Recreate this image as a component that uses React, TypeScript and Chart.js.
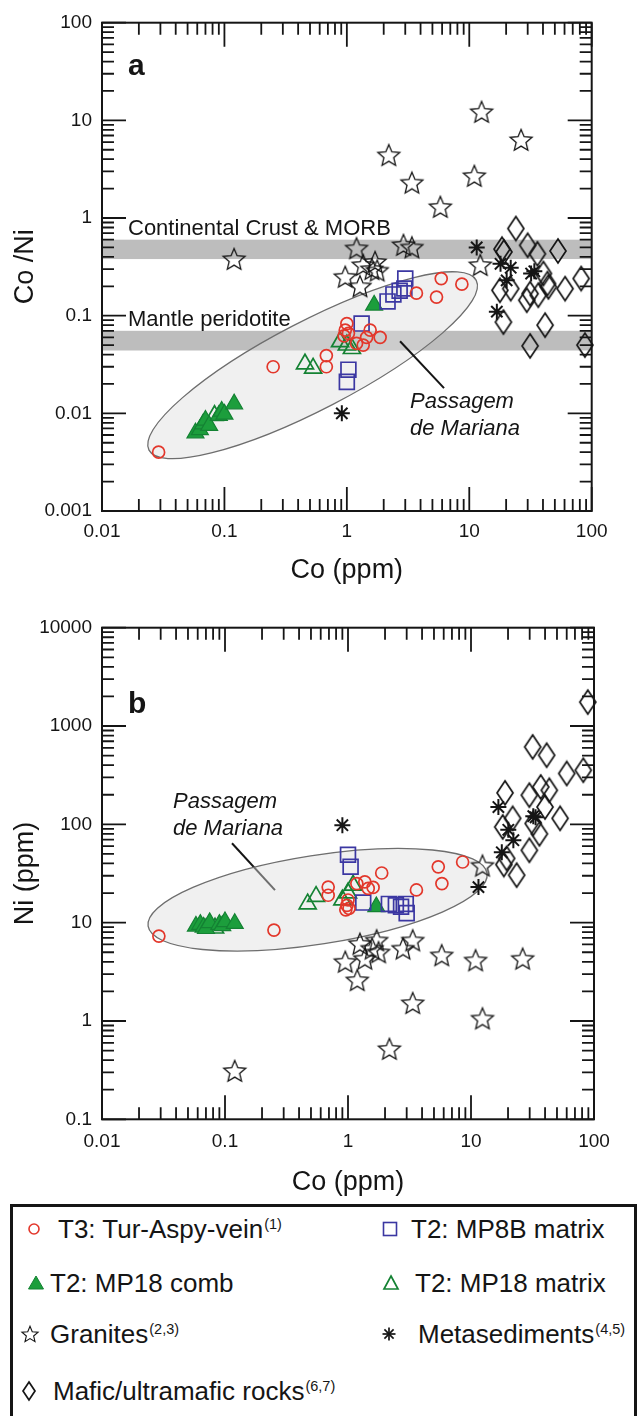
import React, { useEffect, useRef } from "react";
import { Chart, registerables } from "chart.js";

Chart.register(...registerables);

const FONT = '"Liberation Sans", Arial, Helvetica, sans-serif';
const INK = "#151515";
const RED = "#e3372b";
const BLUE = "#3b37a2";
const GREEN = "#1c9e3c";
const GREEN_EDGE = "#148233";

// ---------- axes ----------
const xDecades = [0.01, 0.1, 1, 10, 100];
const xTickLabels = ["0.01", "0.1", "1", "10", "100"];
const yDecadesA = [0.001, 0.01, 0.1, 1, 10, 100];
const yTickLabelsA = ["0.001", "0.01", "0.1", "1", "10", "100"];
const yDecadesB = [0.1, 1, 10, 100, 1000, 10000];
const yTickLabelsB = ["0.1", "1", "10", "100", "1000", "10000"];

// ---------- panel a : Co (ppm) vs Co/Ni ----------
const t3CoA = [0.029, 0.25, 0.68, 0.68, 1.0, 0.97, 1.03, 0.95, 1.2, 1.36, 1.45, 1.55, 1.87, 3.7, 5.4, 5.9, 8.7];
const t3RatioA = [0.004, 0.03, 0.039, 0.03, 0.083, 0.071, 0.066, 0.062, 0.052, 0.05, 0.06, 0.071, 0.06, 0.17, 0.155, 0.24, 0.21];
const mp8bCoA = [1.0, 1.03, 1.32, 2.15, 2.4, 2.7, 2.95, 3.0];
const mp8bRatioA = [0.021, 0.028, 0.083, 0.14, 0.165, 0.18, 0.19, 0.24];
const combCoA = [0.058, 0.063, 0.067, 0.07, 0.075, 0.09, 0.095, 0.1, 0.12, 1.67];
const combRatioA = [0.0063, 0.0068, 0.0078, 0.0085, 0.0075, 0.0095, 0.0105, 0.0098, 0.0125, 0.128];
const matCoA = [0.083, 0.455, 0.53, 0.88, 1.0, 1.1];
const matRatioA = [0.0095, 0.032, 0.029, 0.054, 0.05, 0.046];
const granCoA = [0.12, 0.97, 1.2, 1.28, 1.36, 1.6, 1.7, 1.77, 2.2, 2.9, 3.4, 3.4, 5.8, 11, 12.3, 12.6, 26.5];
const granRatioA = [0.38, 0.25, 0.49, 0.2, 0.33, 0.3, 0.355, 0.29, 4.4, 0.53, 0.5, 2.3, 1.3, 2.7, 0.33, 12.2, 6.3];
const metCoA = [0.91, 11.5, 16.8, 18, 20.2, 21.8, 32, 34];
const metRatioA = [0.01, 0.5, 0.11, 0.34, 0.23, 0.31, 0.27, 0.285];
const mafCoA = [17.8, 19, 19.2, 18.5, 21.8, 24, 29.5, 30, 31.4, 31.4, 36, 36.6, 40.3, 41.6, 43.5, 44.3, 53, 60.6, 82, 88];
const mafRatioA = [0.182, 0.086, 0.45, 0.48, 0.189, 0.78, 0.144, 0.526, 0.168, 0.049, 0.43, 0.162, 0.27, 0.08, 0.213, 0.197, 0.46, 0.189, 0.24, 0.05];

// reference compositions (Co/Ni)
const crustBand = [0.38, 0.6];
const mantleBand = [0.044, 0.07];

// ---------- panel b : Co (ppm) vs Ni (ppm) ----------
const t3CoB = [0.029, 0.25, 0.69, 0.69, 0.96, 0.98, 1.0, 1.02, 1.18, 1.37, 1.46, 1.6, 1.88, 3.6, 5.42, 5.8, 8.55];
const t3NiB = [7.3, 8.4, 23, 19, 13.5, 15, 17, 14, 25, 26, 22.3, 22.8, 32, 21.5, 37, 25, 41.4];
const mp8bCoB = [1.0, 1.05, 1.33, 2.15, 2.45, 2.7, 2.95, 3.0];
const mp8bNiB = [49, 37, 16, 15.5, 15, 14.5, 15.5, 12.5];
const combCoB = [0.058, 0.063, 0.067, 0.07, 0.075, 0.09, 0.095, 0.1, 0.12, 1.7];
const combNiB = [9.2, 9.6, 9.0, 8.7, 10, 9.6, 9.3, 10.2, 9.8, 14.5];
const matCoB = [0.083, 0.47, 0.55, 0.9, 1.0, 1.1];
const matNiB = [8.8, 15.5, 18.5, 17, 20, 24];
const granCoB = [0.12, 0.95, 1.19, 1.25, 1.37, 1.57, 1.71, 1.77, 2.17, 2.8, 3.36, 3.36, 5.78, 10.9, 12.4, 12.4, 26.3];
const granNiB = [0.31, 4.0, 2.6, 6.1, 4.3, 5.45, 6.6, 5.0, 0.52, 5.45, 6.6, 1.52, 4.66, 4.14, 38, 1.06, 4.3];
const metCoB = [0.9, 11.5, 16.7, 17.8, 20.1, 22.1, 32.1, 33.5];
const metNiB = [98, 23, 150, 52, 88, 69, 121, 118];
const mafCoB = [18.1, 18.9, 19.5, 18.5, 21.8, 23.5, 29.8, 29.8, 32, 31.7, 36, 36.9, 40, 41.2, 43.3, 53, 60, 81.8, 89];
const mafNiB = [94, 209, 45, 39, 115, 30.4, 198, 54.5, 102, 613, 80, 240, 150, 505, 222, 115, 329, 355, 1750];

// Passagem de Mariana field (ends of long axis, data units) and pointer
const fieldA = [[0.0242, 0.0042], [11.4, 0.23]];
const fieldB = [[0.0237, 9.2], [13.5, 31.8]];
const leaderA = [[2.72, 0.0547], [6.22, 0.0181]];
const leaderB = [[0.114, 64.2], [0.255, 21.4]];
const fieldLabelA = [3.28, 0.0113];
const fieldLabelB = [0.0378, 146];

// ---------- marker images ----------
function makeStar(R: number, ratio: number, lw: number, color: string) {
  const size = Math.ceil(2 * R + 2 * lw + 2);
  const c = document.createElement("canvas");
  c.width = size;
  c.height = size;
  const g = c.getContext("2d")!;
  g.translate(size / 2, size / 2 + R * 0.08);
  g.beginPath();
  for (let i = 0; i < 10; i++) {
    const r = i % 2 === 0 ? R : R * ratio;
    const a = -Math.PI / 2 + (i * Math.PI) / 5;
    g.lineTo(r * Math.cos(a), r * Math.sin(a));
  }
  g.closePath();
  g.lineWidth = lw;
  g.strokeStyle = color;
  g.lineJoin = "miter";
  g.stroke();
  return c;
}

function makeDiamond(w: number, h: number, lw: number, color: string) {
  const c = document.createElement("canvas");
  c.width = w + 4;
  c.height = h + 4;
  const g = c.getContext("2d")!;
  const cx = c.width / 2;
  const cy = c.height / 2;
  g.beginPath();
  g.moveTo(cx, cy - h / 2);
  g.lineTo(cx + w / 2, cy);
  g.lineTo(cx, cy + h / 2);
  g.lineTo(cx - w / 2, cy);
  g.closePath();
  g.lineWidth = lw;
  g.strokeStyle = color;
  g.lineJoin = "miter";
  g.stroke();
  return c;
}

// ---------- helpers ----------
const isDecade = (v: number, decades: number[]) =>
  decades.findIndex((d) => Math.abs(Math.log10(v) - Math.log10(d)) < 1e-6);

function tickList(decades: number[]) {
  const out: { value: number }[] = [];
  for (let i = 0; i < decades.length - 1; i++) {
    for (let k = 1; k <= 9; k++) out.push({ value: Number((decades[i] * k).toPrecision(8)) });
  }
  out.push({ value: decades[decades.length - 1] });
  return out;
}

const pts = (xs: number[], ys: number[]) => xs.map((x, i) => ({ x, y: ys[i] }));

interface Panel {
  series: { x: number[]; y: number[]; style: any }[];
  yDecades: number[];
  yLabels: string[];
  yTitle: string;
  padRight: number;
  padTop: number;
  xAxisHeight: number;
  xTickPad: number;
  xTitlePad: number;
  bands: { range: number[]; label: string }[];
  field: number[][];
  fieldRatio: number;
  leader: number[][];
  leaderUnder: boolean;
  fieldLabel: number[];
  panel: string;
  panelDy: number;
}

function framePlugin(p: Panel) {
  const drawLeader = (chart: any) => {
    const { ctx, scales } = chart;
    const x = scales.x;
    const y = scales.y;
    ctx.save();
    ctx.strokeStyle = INK;
    ctx.lineWidth = 2;
    ctx.beginPath();
    ctx.moveTo(x.getPixelForValue(p.leader[0][0]), y.getPixelForValue(p.leader[0][1]));
    ctx.lineTo(x.getPixelForValue(p.leader[1][0]), y.getPixelForValue(p.leader[1][1]));
    ctx.stroke();
    ctx.restore();
  };
  return {
    id: "frame",
    beforeDatasetsDraw(chart: any) {
      const { ctx, chartArea, scales } = chart;
      const { left, right, top, bottom } = chartArea;
      const x = scales.x;
      const y = scales.y;
      ctx.save();
      ctx.beginPath();
      ctx.rect(left, top, right - left, bottom - top);
      ctx.clip();
      p.bands.forEach((b) => {
        const y1 = y.getPixelForValue(b.range[1]);
        const y0 = y.getPixelForValue(b.range[0]);
        ctx.fillStyle = "#bdbdbd";
        ctx.fillRect(left, y1, right - left, y0 - y1);
      });
      if (p.leaderUnder) drawLeader(chart);
      const x1 = x.getPixelForValue(p.field[0][0]);
      const y1 = y.getPixelForValue(p.field[0][1]);
      const x2 = x.getPixelForValue(p.field[1][0]);
      const y2 = y.getPixelForValue(p.field[1][1]);
      const cx = (x1 + x2) / 2;
      const cy = (y1 + y2) / 2;
      const a = Math.hypot(x2 - x1, y2 - y1) / 2;
      const ang = Math.atan2(y2 - y1, x2 - x1);
      ctx.beginPath();
      ctx.ellipse(cx, cy, a, a * p.fieldRatio, ang, 0, Math.PI * 2);
      ctx.fillStyle = "rgba(222,222,222,0.45)";
      ctx.fill();
      ctx.strokeStyle = "#6e6e6e";
      ctx.lineWidth = 1.3;
      ctx.stroke();
      ctx.restore();
    },
    afterDatasetsDraw(chart: any) {
      const { ctx, chartArea, scales } = chart;
      const { left, right, top, bottom } = chartArea;
      const x = scales.x;
      const y = scales.y;
      if (!p.leaderUnder) drawLeader(chart);
      ctx.save();
      ctx.fillStyle = INK;
      ctx.textAlign = "left";
      ctx.textBaseline = "alphabetic";
      ctx.font = `22px ${FONT}`;
      p.bands.forEach((b) => {
        ctx.fillText(b.label, left + 26, y.getPixelForValue(b.range[1]) - 5);
      });
      ctx.font = `italic 22px ${FONT}`;
      const lx = x.getPixelForValue(p.fieldLabel[0]);
      const ly = y.getPixelForValue(p.fieldLabel[1]);
      ctx.fillText("Passagem", lx, ly);
      ctx.fillText("de Mariana", lx, ly + 27);
      ctx.font = `bold 30px ${FONT}`;
      ctx.fillText(p.panel, left + 26, top + p.panelDy);
      ctx.strokeStyle = INK;
      ctx.lineWidth = 1.8;
      ctx.beginPath();
      x.ticks.forEach((t: any) => {
        const px = x.getPixelForValue(t.value);
        const len = isDecade(t.value, xDecades) >= 0 ? 24 : 12;
        ctx.moveTo(px, bottom);
        ctx.lineTo(px, bottom - len);
        ctx.moveTo(px, top);
        ctx.lineTo(px, top + len);
      });
      y.ticks.forEach((t: any) => {
        const py = y.getPixelForValue(t.value);
        const len = isDecade(t.value, p.yDecades) >= 0 ? 24 : 12;
        ctx.moveTo(left, py);
        ctx.lineTo(left + len, py);
        ctx.moveTo(right, py);
        ctx.lineTo(right - len, py);
      });
      ctx.stroke();
      ctx.lineWidth = 2;
      ctx.strokeRect(left, top, right - left, bottom - top);
      ctx.restore();
    },
  };
}

function buildChart(canvas: HTMLCanvasElement, p: Panel) {
  return new Chart(canvas, {
    type: "scatter",
    data: {
      datasets: p.series.map((s) => ({
        data: pts(s.x, s.y),
        clip: false,
        ...s.style,
      })),
    },
    options: {
      animation: false,
      responsive: false,
      maintainAspectRatio: false,
      events: [],
      layout: { padding: { left: 0, right: p.padRight, top: p.padTop, bottom: 0 } },
      plugins: { legend: { display: false }, tooltip: { enabled: false } },
      scales: {
        x: {
          type: "logarithmic",
          position: "bottom",
          min: xDecades[0],
          max: xDecades[xDecades.length - 1],
          grid: { display: false, drawTicks: false, tickLength: 0 },
          border: { display: false },
          afterBuildTicks: (s: any) => {
            s.ticks = tickList(xDecades);
          },
          afterFit: (s: any) => {
            s.height = p.xAxisHeight;
          },
          ticks: {
            autoSkip: false,
            maxRotation: 0,
            minRotation: 0,
            padding: p.xTickPad,
            color: INK,
            font: { family: FONT, size: 19 },
            callback: (v: any) => {
              const i = isDecade(Number(v), xDecades);
              return i >= 0 ? xTickLabels[i] : "";
            },
          },
          title: {
            display: true,
            text: "Co (ppm)",
            color: INK,
            font: { family: FONT, size: 27 },
            padding: { top: 0, bottom: p.xTitlePad },
          },
        },
        y: {
          type: "logarithmic",
          position: "left",
          min: p.yDecades[0],
          max: p.yDecades[p.yDecades.length - 1],
          grid: { display: false, drawTicks: false, tickLength: 0 },
          border: { display: false },
          afterBuildTicks: (s: any) => {
            s.ticks = tickList(p.yDecades);
          },
          afterFit: (s: any) => {
            s.width = 102;
          },
          ticks: {
            autoSkip: false,
            padding: 10,
            color: INK,
            font: { family: FONT, size: 19 },
            callback: (v: any) => {
              const i = isDecade(Number(v), p.yDecades);
              return i >= 0 ? p.yLabels[i] : "";
            },
          },
          title: {
            display: true,
            text: p.yTitle,
            color: INK,
            font: { family: FONT, size: 27 },
            padding: { top: 9.4, bottom: 0 },
          },
        },
      },
    } as any,
    plugins: [framePlugin(p) as any],
  });
}

function makeStyles(star: HTMLCanvasElement, diamond: HTMLCanvasElement) {
  const clear = "rgba(0,0,0,0)";
  return {
    t3: { pointStyle: "circle", pointRadius: 6, pointBorderWidth: 1.7, pointBorderColor: RED, pointBackgroundColor: clear },
    mp8b: { pointStyle: "rect", pointRadius: 10.5, pointBorderWidth: 1.7, pointBorderColor: BLUE, pointBackgroundColor: clear },
    comb: { pointStyle: "triangle", pointRadius: 9.8, pointBorderWidth: 1.2, pointBorderColor: GREEN_EDGE, pointBackgroundColor: GREEN },
    mat: { pointStyle: "triangle", pointRadius: 9.8, pointBorderWidth: 1.7, pointBorderColor: GREEN_EDGE, pointBackgroundColor: clear },
    gran: { pointStyle: star, pointRadius: 11, pointBorderWidth: 0, pointBorderColor: INK, pointBackgroundColor: clear },
    met: { pointStyle: "star", pointRadius: 8, pointBorderWidth: 2, pointBorderColor: INK, pointBackgroundColor: clear },
    maf: { pointStyle: diamond, pointRadius: 11, pointBorderWidth: 0, pointBorderColor: INK, pointBackgroundColor: clear },
  };
}

// ---------- legend markers ----------
function starPoints(cx: number, cy: number, R: number, ratio: number) {
  const out: string[] = [];
  for (let i = 0; i < 10; i++) {
    const r = i % 2 === 0 ? R : R * ratio;
    const a = -Math.PI / 2 + (i * Math.PI) / 5;
    out.push(`${(cx + r * Math.cos(a)).toFixed(2)},${(cy + r * Math.sin(a)).toFixed(2)}`);
  }
  return out.join(" ");
}

function Marker({ kind, x, y }: { kind: string; x: number; y: number }) {
  const S = 24;
  const c = S / 2;
  let shape: any = null;
  if (kind === "t3") shape = <circle cx={c} cy={c} r={5} fill="none" stroke={RED} strokeWidth={1.6} />;
  if (kind === "mp8b") shape = <rect x={c - 6.5} y={c - 6.5} width={13} height={13} fill="none" stroke={BLUE} strokeWidth={1.6} />;
  if (kind === "comb")
    shape = <polygon points={`${c},${c - 7} ${c + 7.5},${c + 6} ${c - 7.5},${c + 6}`} fill={GREEN} stroke={GREEN_EDGE} strokeWidth={1} />;
  if (kind === "mat")
    shape = <polygon points={`${c},${c - 7} ${c + 7},${c + 6} ${c - 7},${c + 6}`} fill="none" stroke={GREEN_EDGE} strokeWidth={1.7} />;
  if (kind === "gran") shape = <polygon points={starPoints(c, c + 0.8, 8.5, 0.45)} fill="none" stroke={INK} strokeWidth={1.1} />;
  if (kind === "met")
    shape = (
      <g stroke={INK} strokeWidth={1.7}>
        <line x1={c} y1={c - 6.5} x2={c} y2={c + 6.5} />
        <line x1={c - 6.5} y1={c} x2={c + 6.5} y2={c} />
        <line x1={c - 4.6} y1={c - 4.6} x2={c + 4.6} y2={c + 4.6} />
        <line x1={c - 4.6} y1={c + 4.6} x2={c + 4.6} y2={c - 4.6} />
      </g>
    );
  if (kind === "maf")
    shape = <polygon points={`${c},${c - 9} ${c + 6},${c} ${c},${c + 9} ${c - 6},${c}`} fill="none" stroke={INK} strokeWidth={1.7} />;
  return (
    <svg width={S} height={S} style={{ position: "absolute", left: x - c, top: y - c }}>
      {shape}
    </svg>
  );
}

function LegendText({ x, y, text, sup }: { x: number; y: number; text: string; sup?: string }) {
  return (
    <div
      style={{
        position: "absolute",
        left: x,
        top: y - 15,
        height: 30,
        lineHeight: "30px",
        fontFamily: FONT,
        fontSize: 26,
        color: INK,
        whiteSpace: "nowrap",
      }}
    >
      {text}
      {sup ? <span style={{ fontSize: 14.5, position: "relative", top: -9, marginLeft: 1 }}>{sup}</span> : null}
    </div>
  );
}

export default function App() {
  const refA = useRef<HTMLCanvasElement>(null);
  const refB = useRef<HTMLCanvasElement>(null);

  useEffect(() => {
    const star = makeStar(11.5, 0.45, 1.3, INK);
    const diamond = makeDiamond(16, 24, 1.7, INK);
    const st = makeStyles(star, diamond);
    const chartA = buildChart(refA.current!, {
      series: [
        { x: t3CoA, y: t3RatioA, style: st.t3 },
        { x: mp8bCoA, y: mp8bRatioA, style: st.mp8b },
        { x: combCoA, y: combRatioA, style: st.comb },
        { x: matCoA, y: matRatioA, style: st.mat },
        { x: granCoA, y: granRatioA, style: st.gran },
        { x: metCoA, y: metRatioA, style: st.met },
        { x: mafCoA, y: mafRatioA, style: st.maf },
      ],
      yDecades: yDecadesA,
      yLabels: yTickLabelsA,
      yTitle: "Co /Ni",
      padRight: 47.3,
      padTop: 22.7,
      xAxisHeight: 89,
      xTickPad: 9,
      xTitlePad: 13.2,
      bands: [
        { range: crustBand, label: "Continental Crust & MORB" },
        { range: mantleBand, label: "Mantle peridotite" },
      ],
      field: fieldA,
      fieldRatio: 0.239,
      leader: leaderA,
      leaderUnder: false,
      fieldLabel: fieldLabelA,
      panel: "a",
      panelDy: 52.3,
    });
    const chartB = buildChart(refB.current!, {
      series: [
        { x: t3CoB, y: t3NiB, style: st.t3 },
        { x: mp8bCoB, y: mp8bNiB, style: st.mp8b },
        { x: combCoB, y: combNiB, style: st.comb },
        { x: matCoB, y: matNiB, style: st.mat },
        { x: granCoB, y: granNiB, style: st.gran },
        { x: metCoB, y: metNiB, style: st.met },
        { x: mafCoB, y: mafNiB, style: st.maf },
      ],
      yDecades: yDecadesB,
      yLabels: yTickLabelsB,
      yTitle: "Ni (ppm)",
      padRight: 45,
      padTop: 27.7,
      xAxisHeight: 80.7,
      xTickPad: 11,
      xTitlePad: 1.5,
      bands: [],
      field: fieldB,
      fieldRatio: 0.259,
      leader: leaderB,
      leaderUnder: true,
      fieldLabel: fieldLabelB,
      panel: "b",
      panelDy: 85.6,
    });
    return () => {
      chartA.destroy();
      chartB.destroy();
    };
  }, []);

  return (
    <div style={{ position: "absolute", left: 0, top: 0, width: 639, height: 1416, overflow: "hidden", background: "#fff" }}>
      <canvas ref={refA} width={639} height={600} style={{ position: "absolute", left: 0, top: 0, width: 639, height: 600 }} />
      <canvas ref={refB} width={639} height={600} style={{ position: "absolute", left: 0, top: 600, width: 639, height: 600 }} />
      <div
        style={{
          position: "absolute",
          left: 10,
          top: 1204,
          width: 627,
          height: 212,
          boxSizing: "border-box",
          border: `3px solid ${INK}`,
          borderBottom: "none",
        }}
      />
      <Marker kind="t3" x={34} y={1229} />
      <LegendText x={58} y={1229} text="T3: Tur-Aspy-vein" sup="(1)" />
      <Marker kind="mp8b" x={390} y={1229} />
      <LegendText x={411} y={1229} text="T2: MP8B matrix" />
      <Marker kind="comb" x={36} y={1283} />
      <LegendText x={50} y={1282.5} text="T2: MP18 comb" />
      <Marker kind="mat" x={391} y={1283} />
      <LegendText x={415} y={1282.5} text="T2: MP18 matrix" />
      <Marker kind="gran" x={30} y={1334} />
      <LegendText x={50} y={1334} text="Granites" sup="(2,3)" />
      <Marker kind="met" x={389} y={1334} />
      <LegendText x={418} y={1334} text="Metasediments" sup="(4,5)" />
      <Marker kind="maf" x={29} y={1391} />
      <LegendText x={53} y={1391} text="Mafic/ultramafic rocks" sup="(6,7)" />
    </div>
  );
}
